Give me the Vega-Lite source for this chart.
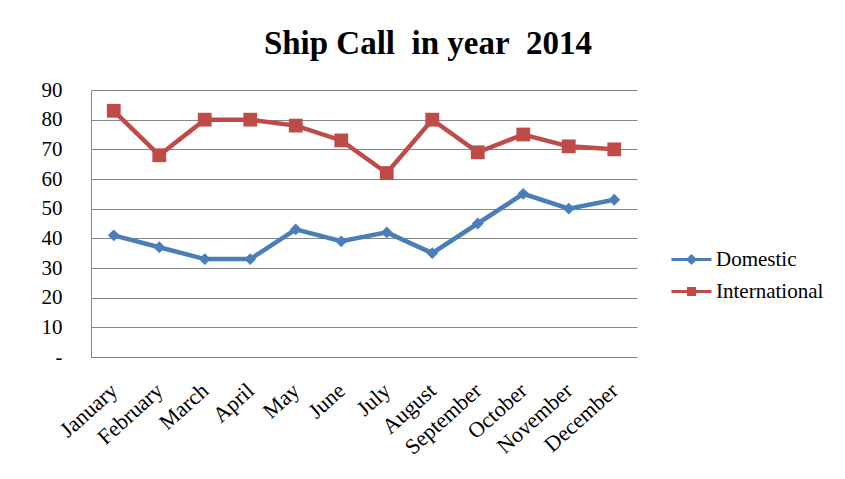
{
  "$schema": "https://vega.github.io/schema/vega-lite/v6.json",
  "width": 546,
  "height": 267,
  "autosize": {"type": "none"},
  "padding": {"left": 91, "top": 90, "right": 208, "bottom": 122},
  "background": "white",
  "title": {
    "text": "Ship Call\u00a0 in year\u00a0 2014",
    "font": "Liberation Serif",
    "fontSize": 33,
    "fontWeight": "bold",
    "color": "#000000",
    "anchor": "middle",
    "frame": "group",
    "dx": 64,
    "offset": 18
  },
  "config": {
    "font": "Liberation Serif",
    "view": {"stroke": null},
    "legend": {"labelFont": "Liberation Serif"},
    "axis": {"labelFont": "Liberation Serif", "labelColor": "#000000", "domainColor": "#868686", "gridColor": "#868686", "gridOpacity": 1, "ticks": false, "title": null}
  },
  "data": {
    "values": [
      {"month": "January", "series": "Domestic", "calls": 41},
      {"month": "February", "series": "Domestic", "calls": 37},
      {"month": "March", "series": "Domestic", "calls": 33},
      {"month": "April", "series": "Domestic", "calls": 33},
      {"month": "May", "series": "Domestic", "calls": 43},
      {"month": "June", "series": "Domestic", "calls": 39},
      {"month": "July", "series": "Domestic", "calls": 42},
      {"month": "August", "series": "Domestic", "calls": 35},
      {"month": "September", "series": "Domestic", "calls": 45},
      {"month": "October", "series": "Domestic", "calls": 55},
      {"month": "November", "series": "Domestic", "calls": 50},
      {"month": "December", "series": "Domestic", "calls": 53},
      {"month": "January", "series": "International", "calls": 83},
      {"month": "February", "series": "International", "calls": 68},
      {"month": "March", "series": "International", "calls": 80},
      {"month": "April", "series": "International", "calls": 80},
      {"month": "May", "series": "International", "calls": 78},
      {"month": "June", "series": "International", "calls": 73},
      {"month": "July", "series": "International", "calls": 62},
      {"month": "August", "series": "International", "calls": 80},
      {"month": "September", "series": "International", "calls": 69},
      {"month": "October", "series": "International", "calls": 75},
      {"month": "November", "series": "International", "calls": 71},
      {"month": "December", "series": "International", "calls": 70}
    ]
  },
  "encoding": {
    "x": {
      "field": "month",
      "type": "ordinal",
      "sort": null,
      "scale": {"type": "point", "padding": 0.5},
      "axis": {"labelAngle": -42, "labelAlign": "right", "labelBaseline": "middle", "labelFontSize": 22, "labelPadding": 30, "grid": false}
    },
    "y": {
      "field": "calls",
      "type": "quantitative",
      "scale": {"domain": [0, 90], "nice": false},
      "axis": {"values": [0, 10, 20, 30, 40, 50, 60, 70, 80, 90], "labelExpr": "datum.value === 0 ? '-' : datum.label", "labelFontSize": 21, "labelPadding": 29, "grid": true}
    },
    "color": {
      "field": "series",
      "type": "nominal",
      "scale": {"domain": ["Domestic", "International"], "range": ["#4A7EBB", "#BE4B48"]},
      "legend": {
        "orient": "none",
        "legendX": 589,
        "legendY": 158,
        "title": null,
        "labelFont": "Liberation Serif",
        "labelFontSize": 21,
        "labelColor": "#000000",
        "symbolSize": 400,
        "symbolStrokeWidth": 3,
        "labelOffset": 13,
        "rowPadding": 10,
        "encode": {
          "labels": {"update": {"font": {"value": "Liberation Serif"}}},
          "symbols": {
            "update": {
              "shape": {"signal": "datum.value === 'Domestic' ? 'M-2,0H2M-0.35,0L0,-0.35L0.35,0L0,0.35Z' : 'M-2,0H2M-0.3,-0.3H0.3V0.3H-0.3Z'"},
              "fill": {"signal": "datum.value === 'Domestic' ? '#4A7EBB' : '#BE4B48'"},
              "stroke": {"signal": "datum.value === 'Domestic' ? '#4A7EBB' : '#BE4B48'"},
              "fillOpacity": {"value": 1},
              "strokeWidth": {"value": 3}
            }
          }
        }
      }
    }
  },
  "layer": [
    {"mark": {"type": "line", "strokeWidth": 4.5}},
    {
      "transform": [{"filter": "datum.series === 'Domestic'"}],
      "mark": {"type": "point", "filled": true, "opacity": 1, "shape": "diamond", "size": 140}
    },
    {
      "transform": [{"filter": "datum.series === 'International'"}],
      "mark": {"type": "point", "filled": true, "opacity": 1, "shape": "square", "size": 190}
    }
  ]
}
